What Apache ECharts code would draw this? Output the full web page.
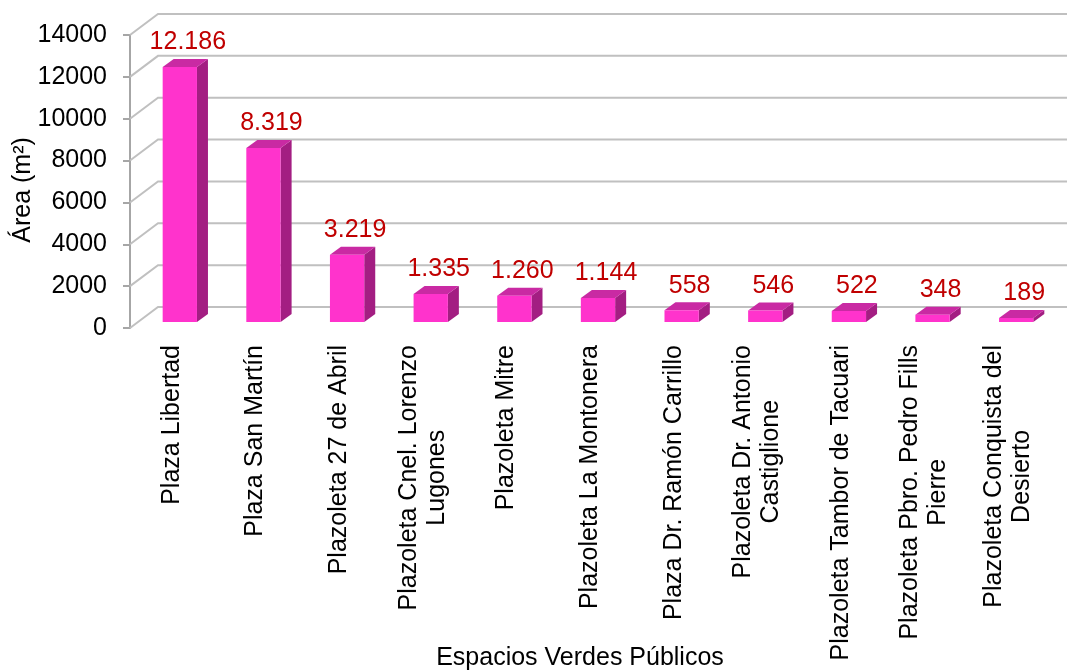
<!DOCTYPE html>
<html>
<head>
<meta charset="utf-8">
<script src="https://cdn.jsdelivr.net/npm/echarts@6/dist/echarts.min.js"></script>
<style>
  html, body { margin: 0; padding: 0; background: #ffffff; }
  #chart { width: 1067px; height: 672px; }
</style>
</head>
<body>
<div id="chart"></div>
<script>
// Green public spaces and their area in square metres
const categories = [
  'Plaza Libertad',
  'Plaza San Martín',
  'Plazoleta 27 de Abril',
  'Plazoleta Cnel. Lorenzo\nLugones',
  'Plazoleta Mitre',
  'Plazoleta La Montonera',
  'Plaza Dr. Ramón Carrillo',
  'Plazoleta Dr. Antonio\nCastiglione',
  'Plazoleta Tambor de Tacuari',
  'Plazoleta Pbro. Pedro Fills\nPierre',
  'Plazoleta Conquista del\nDesierto'
];
const areas = [12186, 8319, 3219, 1335, 1260, 1144, 558, 546, 522, 348, 189];
const yTicks = [0, 2000, 4000, 6000, 8000, 10000, 12000, 14000];

const FONT = '"Liberation Sans", Arial, sans-serif';

// depth of the wall (left side / back wall offset) and of each bar
const WALL_DX = 28, WALL_DY = -21;
const BAR_FRONT_DX = 8, BAR_FRONT_DY = -6;
const BAR_DX = 11, BAR_DY = -8;

function thousands(v) {
  return String(v).replace(/\B(?=(\d{3})+(?!\d))/g, '.');
}

const chart = echarts.init(document.getElementById('chart'), null, { renderer: 'canvas' });

const option = {
  backgroundColor: '#ffffff',
  animation: false,
  grid: { left: 130, top: 35, width: 920, height: 293, containLabel: false, outerBoundsMode: 'none' },
  xAxis: {
    type: 'category',
    data: categories,
    axisLine: { show: false },
    axisTick: { show: false },
    splitLine: { show: false },
    axisLabel: {
      interval: 0,
      rotate: 90,
      margin: 17,
      formatter: function (val) {
        return val.split('\n').map(function (s) { return '{c|' + s + '}'; }).join('\n');
      },
      rich: {
        c: { align: 'center', fontSize: 25, fontFamily: FONT, color: '#000000', lineHeight: 28 }
      }
    },
    name: 'Espacios Verdes Públicos',
    nameLocation: 'middle',
    nameGap: 318,
    nameMoveOverlap: false,
    nameTextStyle: { fontSize: 25, fontFamily: FONT, color: '#000000', padding: [0, 20, 0, 0] }
  },
  yAxis: {
    type: 'value',
    min: 0,
    max: 14000,
    interval: 2000,
    axisLine: { show: true, lineStyle: { color: '#A6A6A6', width: 2 } },
    axisTick: { show: true, length: 7, lineStyle: { color: '#A6A6A6', width: 2 } },
    splitLine: { show: false },
    axisLabel: {
      fontSize: 25, fontFamily: FONT, color: '#000000', margin: 23,
      formatter: function (v) { return String(v); }
    },
    name: 'Área (m²)',
    nameLocation: 'middle',
    nameGap: 94,
    nameMoveOverlap: false,
    nameTextStyle: { fontSize: 25, fontFamily: FONT, color: '#000000', padding: [0, 17, 0, 0] }
  },
  series: [
    {
      // gridlines: side wall diagonal plus back wall horizontal
      type: 'custom',
      z: 1,
      silent: true,
      data: yTicks.map(function (v) { return [0, v]; }),
      renderItem: function (params, api) {
        const cs = params.coordSys;
        const y = api.coord([0, api.value(1)])[1];
        const x0 = cs.x;
        return {
          type: 'polyline',
          shape: {
            points: [
              [x0, y],
              [x0 + WALL_DX, y + WALL_DY],
              [x0 + cs.width + WALL_DX, y + WALL_DY]
            ]
          },
          style: { stroke: '#C0C0C0', lineWidth: 2, fill: null }
        };
      }
    },
    {
      // 3D-looking bars with value labels
      type: 'custom',
      z: 2,
      data: areas.map(function (v, i) { return [i, v]; }),
      renderItem: function (params, api) {
        const i = api.value(0);
        const v = api.value(1);
        const base = api.coord([i, 0]);
        const top = api.coord([i, v]);
        const band = api.size([1, 0])[0];
        const w = band * 0.41;
        const cx = base[0] + BAR_FRONT_DX;
        const fl = cx - w / 2, fr = cx + w / 2;
        const y0 = base[1] + BAR_FRONT_DY;
        const y1 = top[1] + BAR_FRONT_DY;
        return {
          type: 'group',
          children: [
            {
              type: 'polygon',
              shape: { points: [[fr, y0], [fr, y1], [fr + BAR_DX, y1 + BAR_DY], [fr + BAR_DX, y0 + BAR_DY]] },
              style: { fill: '#A31E82' }
            },
            {
              type: 'polygon',
              shape: { points: [[fl, y1], [fr, y1], [fr + BAR_DX, y1 + BAR_DY], [fl + BAR_DX, y1 + BAR_DY]] },
              style: { fill: '#C92AA3' }
            },
            {
              type: 'rect',
              shape: { x: fl, y: y1, width: w, height: y0 - y1 },
              style: { fill: '#FF33CC' }
            },
            {
              type: 'text',
              x: cx + 8,
              y: y1 + BAR_DY - 4,
              style: {
                text: thousands(v),
                fontSize: 25,
                fontFamily: FONT,
                fill: '#C00000',
                align: 'center',
                verticalAlign: 'bottom'
              }
            }
          ]
        };
      }
    }
  ]
};

chart.setOption(option);
</script>
</body>
</html>
